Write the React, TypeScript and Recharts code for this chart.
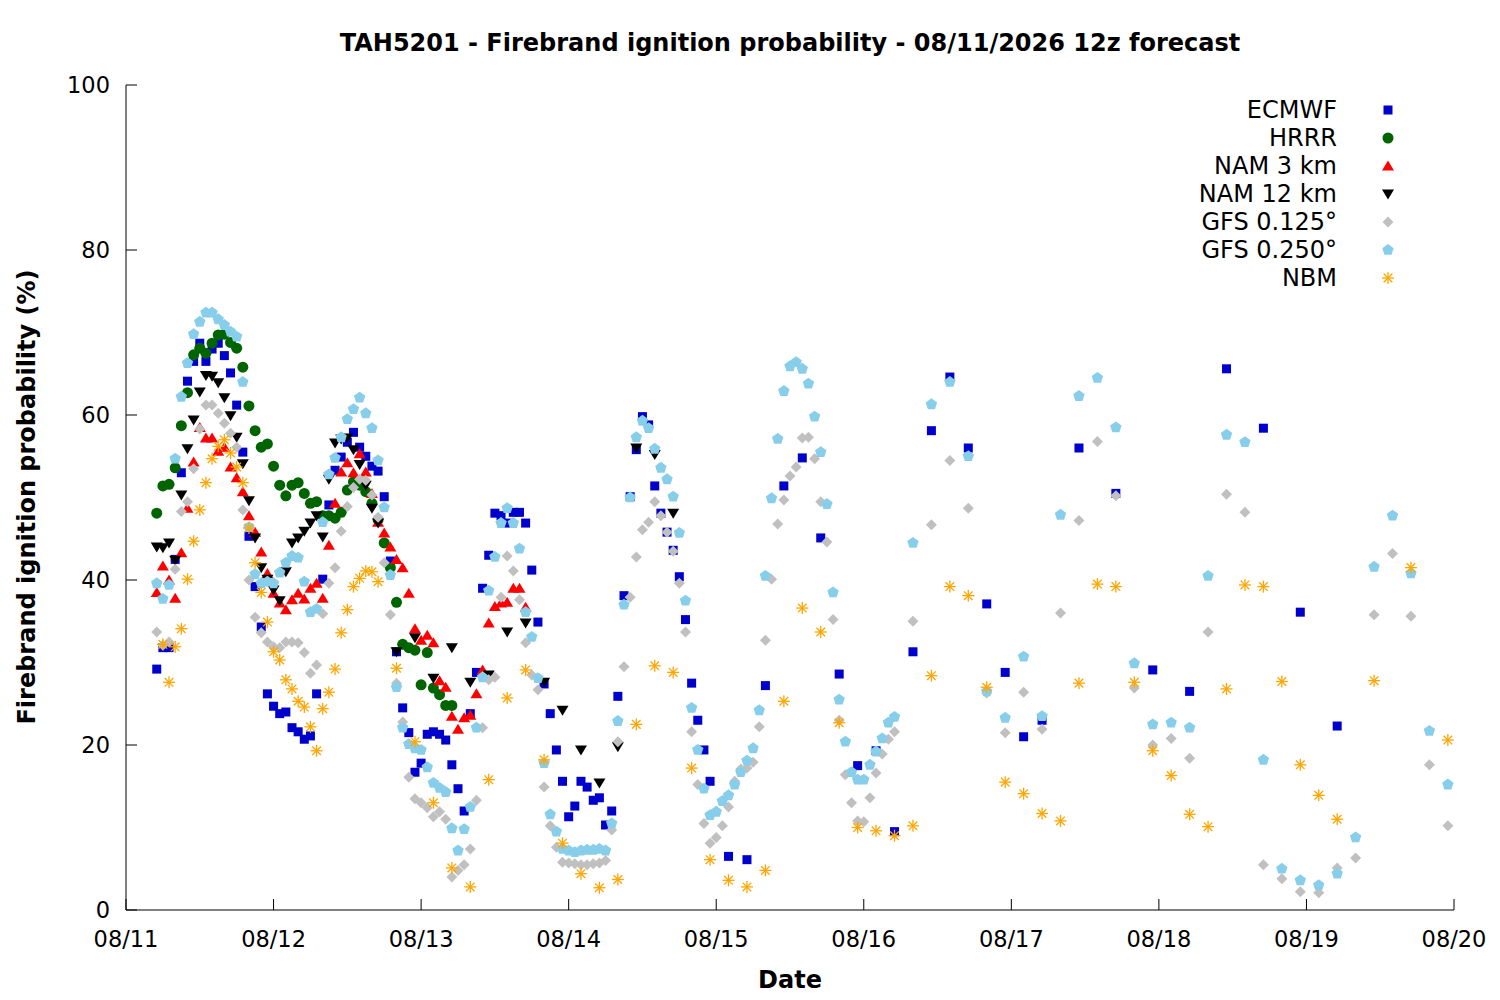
import { ScatterChart, Scatter, XAxis, YAxis } from 'recharts';

const dateLabels = ['08/11', '08/12', '08/13', '08/14', '08/15', '08/16', '08/17', '08/18', '08/19', '08/20'];
const dayTicks = [0, 24, 48, 72, 96, 120, 144, 168, 192, 216];
const pctTicks = [0, 20, 40, 60, 80, 100];

// forecast hours (local) since 08/11 00
const hourly = [
  5, 6, 7, 8, 9, 10, 11, 12, 13, 14, 15, 16, 17, 18, 19, 20, 21, 22, 23, 24,
  25, 26, 27, 28, 29, 30, 31, 32, 33, 34, 35, 36, 37, 38, 39, 40, 41, 42, 43, 44,
  45, 46, 47, 48, 49, 50, 51, 52, 53, 54, 55, 56, 57, 58, 59, 60, 61, 62, 63, 64,
  65, 66, 67, 68, 69, 70, 71, 72, 73, 74, 75, 76, 77, 78, 79, 80, 81, 82, 83, 84,
  85, 86, 87, 88, 89, 90, 91, 92, 93, 94, 95, 96, 97, 98, 99, 100, 101, 102, 103, 104,
  105, 106, 107, 108, 109, 110, 111, 112, 113, 114, 115, 116, 117, 118, 119, 120, 121, 122, 123, 124,
  125,
];
const threeHourly = [
  44, 47, 50, 53, 56, 59, 62, 65, 68, 71, 74, 77, 80, 83, 86, 89, 92, 95, 98, 101,
  104, 107, 110, 113, 116, 119, 122, 125, 128, 131, 134, 137, 140, 143, 146, 149, 152, 155, 158, 161,
  164, 167, 170, 173, 176, 179, 182, 185, 188, 191, 194, 197, 200, 203, 206, 209, 212, 215,
];
const ecmwfSixHourly = [155, 161, 167, 173, 179, 185, 191, 197];
const nbmSixHourly = [203, 209, 215];

const ecmwfValues = [
  29.2, 31.8, 31.8, 42.5, 53.0, 64.1, 66.5, 68.7, 66.5, 68.0,
  68.7, 67.2, 65.1, 61.2, 55.5, 45.3, 39.2, 34.3, 26.2, 24.7,
  23.8, 24.0, 22.1, 21.6, 20.7, 21.1, 26.2, 40.1, 49.1, 53.3,
  54.9, 56.7, 57.9, 56.1, 55.0, 53.8, 53.2, 50.1, 42.3, 31.3,
  24.5, 21.5, 16.7, 17.8, 21.3, 21.6, 21.3, 20.6, 17.6, 14.7,
  12.0, 23.8, 28.8, 39.0, 43.0, 48.1, 47.8, 46.9, 48.2, 48.2,
  46.9, 41.2, 34.9, 27.4, 23.8, 19.4, 15.6, 11.3, 12.6, 15.6,
  14.9, 13.3, 13.6, 10.3, 12.0, 25.9, 38.1, 50.1, 55.8, 59.8,
  58.8, 51.4, 48.1, 45.8, 43.6, 40.4, 35.2, 27.5, 23.0, 19.4,
  15.6,
  // 3-hourly 98..149
  6.5, 6.1, 27.2, 51.4, 54.8, 45.1, 28.6, 17.5, 19.3, 9.5,
  31.3, 58.1, 64.6, 56.0, 37.1, 28.8, 21.0, 23.0,
  // 6-hourly 155..197
  56.0, 50.5, 29.1, 26.5, 65.6, 58.4, 36.1, 22.3,
];

const hrrrValues = [
  48.1, 51.4, 51.6, 53.6, 58.7, 62.7, 67.3, 68.1, 67.5, 68.7,
  69.7, 69.8, 68.8, 68.1, 65.8, 61.1, 58.1, 56.1, 56.5, 53.8,
  51.5, 50.2, 51.5, 51.8, 50.5, 49.3, 49.5, 47.8, 47.8, 47.5,
  48.2, 50.9, 51.9, 51.5, 50.7, 49.3, 47.3, 44.5, 41.5, 37.3,
  32.2, 31.8, 31.5, 27.3, 31.2, 26.9, 26.1, 24.8, 24.8,
];

const nam3Values = [
  38.5, 41.7, 40.0, 37.8, 43.3, 48.7, 54.3, 58.5, 57.2, 57.2,
  55.6, 56.1, 53.7, 52.4, 50.7, 47.8, 45.8, 43.4, 40.8, 38.4,
  37.2, 36.4, 37.6, 38.4, 37.7, 39.0, 39.6, 37.8, 44.2, 49.3,
  53.1, 54.2, 53.0, 55.3, 53.1, 50.5, 47.0, 45.7, 44.0, 42.5,
  41.5, 38.4, 34.1, 32.7, 33.3, 32.4, 27.8, 27.0, 23.5, 21.9,
  23.3, 23.6, 26.2, 29.1, 34.8, 36.8, 37.2, 37.3, 39.0, 39.0,
  36.7,
];

const nam12Values = [
  44.0, 43.9, 44.5, 42.4, 50.3, 55.9, 59.4, 62.8, 64.8, 64.7,
  63.9, 62.1, 59.9, 57.3, 54.1, 49.6, 45.1, 41.5, 40.1, 38.8,
  37.5, 41.0, 44.5, 45.1, 45.9, 46.9, 47.8, 45.2, 52.2, 56.6,
  57.1, 57.2, 55.8, 54.0, 51.5, 48.7, 46.9,
  // 3-hourly 44..89
  31.3, 33.0, 28.1, 31.8, 27.6, 28.5, 33.7, 34.8, 27.6, 24.2,
  19.4, 15.4, 19.8, 56.0, 55.2, 48.1,
];

const gfs125Values = [
  33.7, 32.1, 32.5, 41.3, 48.3, 49.5, 53.5, 58.3, 61.2, 61.2,
  60.2, 59.0, 57.8, 56.1, 48.5, 40.0, 35.5, 33.6, 32.5, 31.9,
  31.8, 32.5, 32.5, 32.4, 31.2, 28.7, 29.7, 35.9, 39.6, 41.5,
  45.9, 48.9, 51.2, 52.2, 52.1, 50.3, 47.6, 42.1, 35.8, 27.5,
  22.8, 16.1, 13.5, 13.0, 12.4, 11.3, 11.9, 11.0, 4.0, 4.8,
  5.5, 7.4, 13.3, 22.1, 27.9, 28.2, 37.9, 42.9, 41.1, 37.6,
  32.4, 28.5, 26.7, 14.9, 10.2, 7.6, 5.8, 5.7, 5.6, 5.5,
  5.5, 5.6, 5.7, 6.0, 9.7, 20.4, 29.5, 37.9, 42.8, 46.1,
  47.0, 49.5, 47.8, 45.8, 43.5, 39.6, 33.7, 21.6, 15.2, 10.5,
  8.1, 8.8, 10.2, 12.5, 15.6, 17.1, 17.2, 17.9, 22.2, 32.7,
  40.1, 46.8, 49.7, 52.6, 53.7, 57.2, 57.3, 54.7, 49.5, 44.6,
  35.2, 23.0, 16.4, 13.0, 10.8, 10.7, 13.6, 16.6, 18.9, 20.7,
  21.6,
  // 3-hourly 128..215
  35.0, 46.7, 54.5, 48.7, 26.3, 21.5, 26.4, 21.9, 36.0, 47.2,
  56.8, 50.2, 26.9, 20.0, 20.8, 18.4, 33.7, 50.4, 48.2, 5.5,
  3.8, 2.2, 2.1, 5.1, 6.3, 35.8, 43.2, 35.6, 17.6, 10.2,
];

const gfs250Values = [
  39.6, 37.7, 39.4, 54.7, 62.2, 66.3, 69.8, 71.3, 72.4, 72.4,
  71.6, 70.9, 70.1, 69.5, 64.0, 46.4, 40.7, 39.6, 39.8, 39.6,
  40.9, 42.1, 42.9, 42.7, 39.8, 36.1, 36.5, 47.0, 52.8, 54.8,
  57.3, 59.5, 60.7, 62.1, 60.2, 58.4, 54.5, 48.8, 40.6, 27.0,
  22.1, 20.1, 19.6, 19.4, 17.3, 15.4, 14.8, 14.3, 9.9, 7.2,
  9.8, 12.5, 22.1, 28.2, 38.7, 42.8, 46.9, 48.7, 46.9, 43.8,
  36.1, 33.1, 28.1, 17.8, 11.6, 9.5, 7.4, 7.2, 7.0, 7.2,
  7.3, 7.3, 7.4, 7.2, 10.5, 22.9, 37.0, 50.0, 57.3, 59.3,
  58.4, 55.9, 53.6, 52.2, 50.1, 45.7, 37.5, 24.5, 19.4, 14.7,
  11.5, 11.9, 13.2, 13.9, 15.2, 16.7, 18.1, 19.6, 24.2, 40.5,
  49.9, 57.1, 62.9, 65.9, 66.4, 65.6, 63.8, 59.8, 55.5, 49.2,
  38.5, 25.5, 20.4, 16.7, 15.8, 15.8, 17.6, 19.2, 20.8, 22.7,
  23.4,
  // 3-hourly 128..215
  44.5, 61.3, 64.0, 55.0, 26.5, 23.3, 30.7, 23.5, 47.9, 62.3,
  64.5, 58.5, 29.9, 22.5, 22.7, 22.1, 40.5, 57.6, 56.7, 18.2,
  5.0, 3.6, 3.0, 4.4, 8.8, 41.6, 47.8, 40.8, 21.7, 15.2,
];

const nbmValues = [
  32.2, 27.6, 31.9, 34.1, 40.1, 44.7, 48.5, 51.8, 54.7,
  56.2, 57.0, 55.4, 53.7, 51.8, 46.3, 42.1, 38.5, 34.9, 31.3,
  30.3, 27.9, 26.8, 25.3, 24.6, 22.2, 19.3, 24.4, 26.4, 29.2,
  33.6, 36.4, 39.2, 40.2, 41.1, 41.0, 39.8,
  // 3-hourly 44..197
  29.3, 20.4, 13.0, 5.1, 2.8, 15.8, 25.7, 29.1, 18.2, 8.1,
  4.4, 2.7, 3.7, 22.5, 29.6, 28.8, 17.2, 6.1, 3.6, 2.8,
  4.8, 25.3, 36.6, 33.7, 22.7, 10.0, 9.6, 9.0, 10.2, 28.4,
  39.2, 38.1, 27.0, 15.5, 14.1, 11.7, 10.8, 27.5, 39.5, 39.2,
  27.6, 19.3, 16.3, 11.6, 10.1, 26.8, 39.4, 39.2, 27.7, 17.6,
  13.9, 11.0,
  // 6-hourly 203..215
  27.8, 41.5, 20.6,
];

const between = (list: number[], lo: number, hi: number) => list.filter((h) => h >= lo && h <= hi);
const toPoints = (hours: number[], values: number[]) => values.map((v, i) => ({ x: hours[i], y: v }));

const ecmwfHours = [...hourly.slice(0, 91), ...between(threeHourly, 98, 149), ...ecmwfSixHourly];
const hrrrHours = hourly.slice(0, 49);
const nam3Hours = hourly.slice(0, 61);
const nam12Hours = [...hourly.slice(0, 37), ...between(threeHourly, 44, 89)];
const gfsHours = [...hourly, ...between(threeHourly, 128, 215)];
const nbmHours = [...hourly.slice(1, 37), ...between(threeHourly, 44, 197), ...nbmSixHourly];

type MarkProps = { cx?: number; cy?: number; color: string };

const SquareMark = ({ cx = 0, cy = 0, color }: MarkProps) => (
  <rect x={cx - 4.5} y={cy - 4.5} width={9} height={9} fill={color} />
);
const CircleMark = ({ cx = 0, cy = 0, color }: MarkProps) => <circle cx={cx} cy={cy} r={5.5} fill={color} />;
const UpMark = ({ cx = 0, cy = 0, color }: MarkProps) => (
  <polygon points={`${cx},${cy - 5.5} ${cx + 6},${cy + 4.5} ${cx - 6},${cy + 4.5}`} fill={color} />
);
const DownMark = ({ cx = 0, cy = 0, color }: MarkProps) => (
  <polygon points={`${cx},${cy + 5.5} ${cx + 6},${cy - 4.5} ${cx - 6},${cy - 4.5}`} fill={color} />
);
const DiamondMark = ({ cx = 0, cy = 0, color }: MarkProps) => (
  <polygon points={`${cx},${cy - 5.5} ${cx + 5.5},${cy} ${cx},${cy + 5.5} ${cx - 5.5},${cy}`} fill={color} />
);
const PentagonMark = ({ cx = 0, cy = 0, color }: MarkProps) => {
  const pts = [0, 1, 2, 3, 4]
    .map((k) => {
      const a = ((-90 + 72 * k) * Math.PI) / 180;
      return `${cx + 6 * Math.cos(a)},${cy + 6 * Math.sin(a)}`;
    })
    .join(' ');
  return <polygon points={pts} fill={color} />;
};
const StarMark = ({ cx = 0, cy = 0, color }: MarkProps) => (
  <g stroke={color} strokeWidth={1.3}>
    <line x1={cx - 6} y1={cy} x2={cx + 6} y2={cy} />
    <line x1={cx} y1={cy - 6} x2={cx} y2={cy + 6} />
    <line x1={cx - 4.3} y1={cy - 4.3} x2={cx + 4.3} y2={cy + 4.3} />
    <line x1={cx - 4.3} y1={cy + 4.3} x2={cx + 4.3} y2={cy - 4.3} />
  </g>
);

const series = [
  { name: 'ECMWF', color: '#0000cd', Mark: SquareMark, data: toPoints(ecmwfHours, ecmwfValues) },
  { name: 'HRRR', color: '#006400', Mark: CircleMark, data: toPoints(hrrrHours, hrrrValues) },
  { name: 'NAM 3 km', color: '#ff0000', Mark: UpMark, data: toPoints(nam3Hours, nam3Values) },
  { name: 'NAM 12 km', color: '#000000', Mark: DownMark, data: toPoints(nam12Hours, nam12Values) },
  { name: 'GFS 0.125°', color: '#c0c0c0', Mark: DiamondMark, data: toPoints(gfsHours, gfs125Values) },
  { name: 'GFS 0.250°', color: '#87ceeb', Mark: PentagonMark, data: toPoints(gfsHours, gfs250Values) },
  { name: 'NBM', color: '#ffa500', Mark: StarMark, data: toPoints(nbmHours, nbmValues) },
];

const font = "'DejaVu Sans', sans-serif";
const tickStyle = { fontSize: 22.5, fill: '#000', fontFamily: font };
const labelStyle = { position: 'absolute' as const, fontSize: 24, lineHeight: '28px', fontWeight: 'bold' as const, textAlign: 'center' as const };

export default function App() {
  return (
    <div style={{ position: 'absolute', left: 0, top: 0, width: 1500, height: 1000, fontFamily: font, background: '#fff' }}>
      <ScatterChart width={1500} height={1000} margin={{ top: 85, right: 46, bottom: 60, left: 66 }}>
        <XAxis
          type="number"
          dataKey="x"
          domain={[0, 216]}
          ticks={dayTicks}
          tickFormatter={(v: number) => dateLabels[dayTicks.indexOf(v)]}
          height={30}
          tickSize={-11}
          tickMargin={32}
          tick={tickStyle}
          axisLine={{ stroke: '#000' }}
          tickLine={{ stroke: '#000' }}
        />
        <XAxis
          xAxisId="top"
          orientation="top"
          type="number"
          domain={[0, 216]}
          ticks={dayTicks}
          height={0}
          tickSize={-11}
          tick={false}
          axisLine={{ stroke: '#000' }}
          tickLine={{ stroke: '#000' }}
        />
        <YAxis
          type="number"
          dataKey="y"
          domain={[0, 100]}
          ticks={pctTicks}
          width={60}
          tickSize={-11}
          tickMargin={27}
          tick={tickStyle}
          axisLine={{ stroke: '#000' }}
          tickLine={{ stroke: '#000' }}
        />
        <YAxis
          yAxisId="right"
          orientation="right"
          type="number"
          domain={[0, 100]}
          ticks={pctTicks}
          width={0}
          tickSize={-11}
          tick={false}
          axisLine={{ stroke: '#000' }}
          tickLine={{ stroke: '#000' }}
        />
        {series.map((s) => (
          <Scatter
            key={s.name}
            name={s.name}
            data={s.data}
            isAnimationActive={false}
            shape={(p: any) => <s.Mark cx={p.cx} cy={p.cy} color={s.color} />}
          />
        ))}
      </ScatterChart>

      <div style={{ ...labelStyle, left: 0, top: 29, width: 1580 }}>
        TAH5201 - Firebrand ignition probability - 08/11/2026 12z forecast
      </div>
      <div style={{ ...labelStyle, left: 0, top: 966, width: 1580 }}>Date</div>
      <div style={{ ...labelStyle, left: 27 - 300, top: 497 - 14, width: 600, height: 28, transform: 'rotate(-90deg)' }}>
        Firebrand ignition probability (%)
      </div>

      {series.map((s, i) => (
        <div key={s.name}>
          <div
            style={{
              position: 'absolute',
              right: 1500 - 1337,
              top: 96 + 28 * i,
              lineHeight: '28px',
              fontSize: 24,
              whiteSpace: 'nowrap',
            }}
          >
            {s.name}
          </div>
          <svg style={{ position: 'absolute', left: 1378, top: 100 + 28 * i }} width={20} height={20}>
            <s.Mark cx={10} cy={10} color={s.color} />
          </svg>
        </div>
      ))}
    </div>
  );
}
